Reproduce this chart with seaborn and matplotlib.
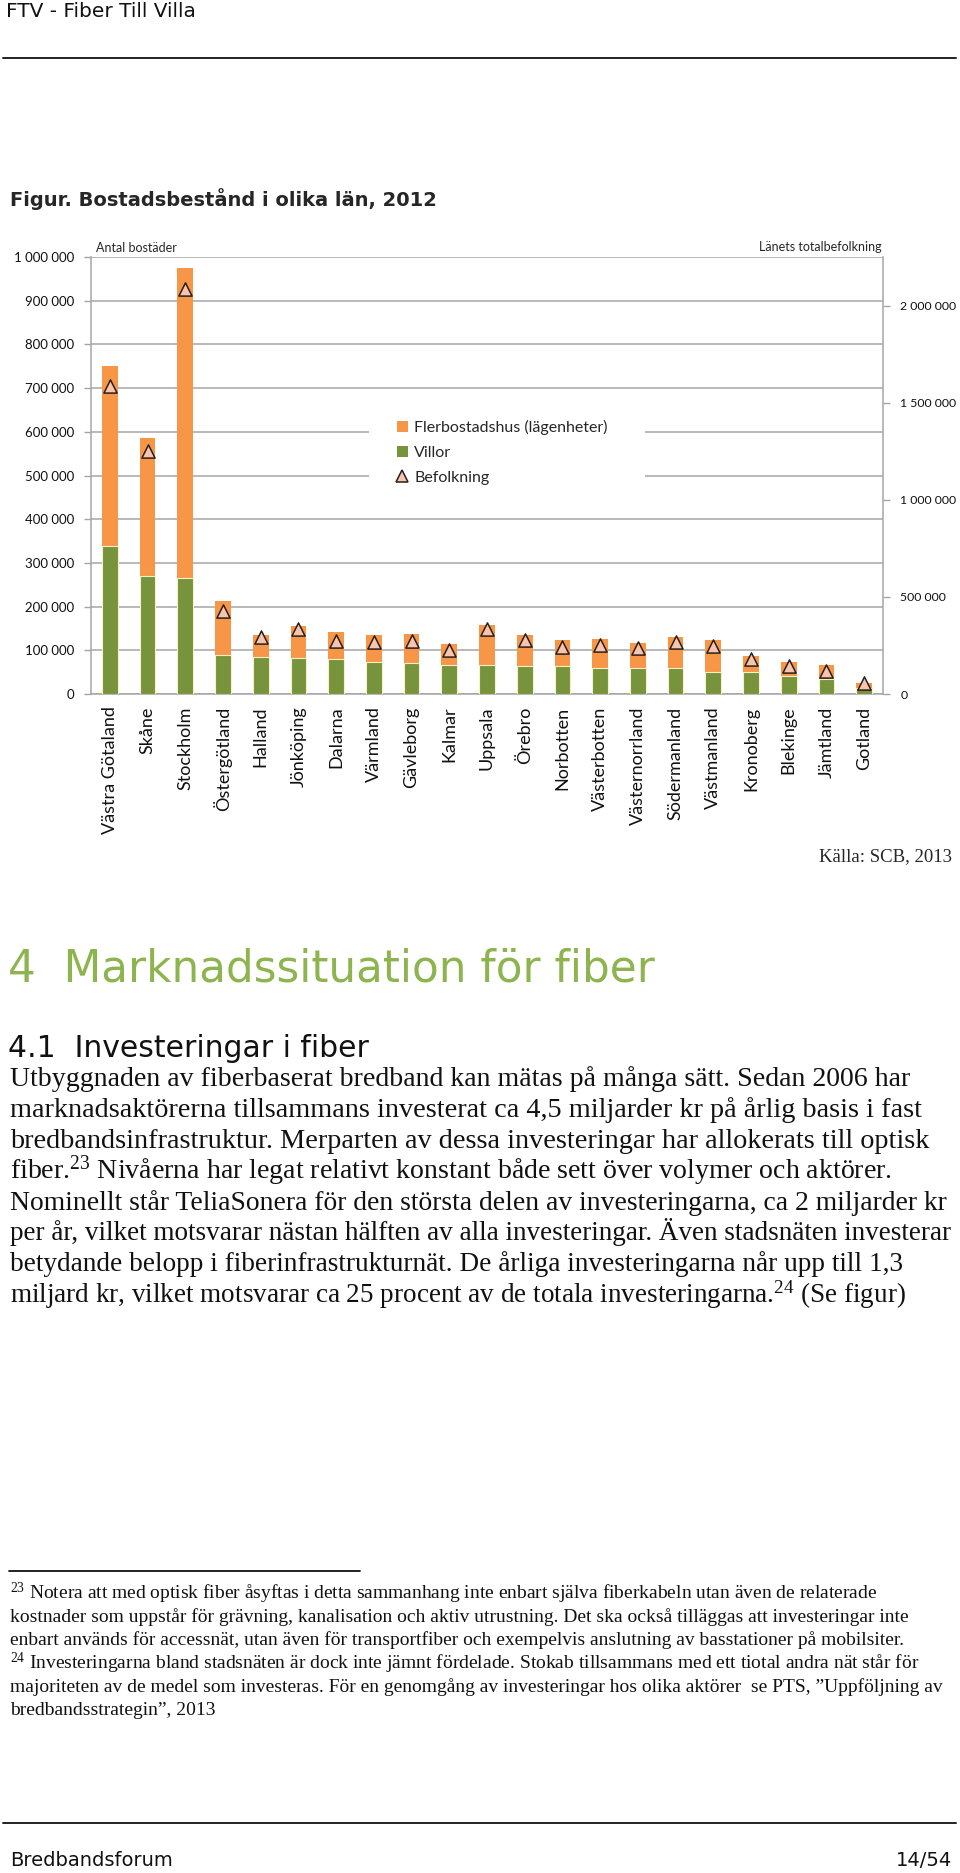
import numpy as np
import pandas as pd
import matplotlib
matplotlib.use("Agg")
import matplotlib.pyplot as plt
import seaborn as sns
from matplotlib.lines import Line2D
from matplotlib.patches import Patch, Rectangle

# ---------------- data ----------------
lan = ["Västra Götaland", "Skåne", "Stockholm", "Östergötland", "Halland", "Jönköping",
       "Dalarna", "Värmland", "Gävleborg", "Kalmar", "Uppsala", "Örebro", "Norbotten",
       "Västerbotten", "Västernorrland", "Södermanland", "Västmanland", "Kronoberg",
       "Blekinge", "Jämtland", "Gotland"]
villor = [339000, 270000, 266000, 89000, 85000, 83000, 81000, 74000, 72000, 67000, 67000,
          65000, 63000, 60000, 60000, 60000, 51000, 50000, 41000, 34000, 14000]
flerbostadshus = [412000, 316000, 709000, 123000, 49000, 73000, 60000, 60000, 65000, 48000,
                  91000, 71000, 61000, 66000, 57000, 71000, 73000, 38000, 32000, 32000, 12000]
befolkning = [1584000, 1249000, 2084000, 428000, 295000, 333000, 273000, 266000, 275000,
              227000, 333000, 278000, 241000, 251000, 239000, 268000, 247000, 179000,
              146000, 120000, 55000]
left_ticks = [0, 100000, 200000, 300000, 400000, 500000, 600000, 700000, 800000, 900000, 1000000]
right_ticks = [0, 500000, 1000000, 1500000, 2000000]

body_lines = [
    "Utbyggnaden av fiberbaserat bredband kan mätas på många sätt. Sedan 2006 har",
    "marknadsaktörerna tillsammans investerat ca 4,5 miljarder kr på årlig basis i fast",
    "bredbandsinfrastruktur. Merparten av dessa investeringar har allokerats till optisk",
    r"fiber.$^{\mathrm{23}}$ Nivåerna har legat relativt konstant både sett över volymer och aktörer.",
    "Nominellt står TeliaSonera för den största delen av investeringarna, ca 2 miljarder kr",
    "per år, vilket motsvarar nästan hälften av alla investeringar. Även stadsnäten investerar",
    "betydande belopp i fiberinfrastrukturnät. De årliga investeringarna når upp till 1,3",
    r"miljard kr, vilket motsvarar ca 25 procent av de totala investeringarna.$^{\mathrm{24}}$ (Se figur)",
]
foot_lines = [
    r"$^{\mathrm{23}}$ Notera att med optisk fiber åsyftas i detta sammanhang inte enbart själva fiberkabeln utan även de relaterade",
    "kostnader som uppstår för grävning, kanalisation och aktiv utrustning. Det ska också tilläggas att investeringar inte",
    "enbart används för accessnät, utan även för transportfiber och exempelvis anslutning av basstationer på mobilsiter.",
    r"$^{\mathrm{24}}$ Investeringarna bland stadsnäten är dock inte jämnt fördelade. Stokab tillsammans med ett tiotal andra nät står för",
    "majoriteten av de medel som investeras. För en genomgång av investeringar hos olika aktörer  se PTS, \u201dUppföljning av",
    "bredbandsstrategin\u201d, 2013",
]

df = pd.DataFrame({"lan": lan, "villor": villor, "fler": flerbostadshus, "pop": befolkning})
df["total"] = df["villor"] + df["fler"]
df["pos"] = np.arange(len(df))

# ---------------- style ----------------
sns.set_style("white")
plt.rcParams["font.family"] = ["DejaVu Sans"]
plt.rcParams["mathtext.fontset"] = "custom"
plt.rcParams["mathtext.rm"] = "Liberation Serif"
plt.rcParams["mathtext.it"] = "Liberation Serif:italic"

ORANGE = "#F79646"
GREEN = "#77933C"
PINK = "#F5C5B0"
EDGE = "#2B1E18"
GRID = "#A6A6A6"
HEAD_GREEN = "#8DB44F"
CH = "Lato"

W, H = 960, 1873
fig = plt.figure(figsize=(W / 100, H / 100), dpi=100)
fig.patch.set_facecolor("white")

def fx(px):
    return px / W

def fy(px):
    return 1 - px / H

# ---------------- chart ----------------
ax_l, ax_r, ax_t, ax_b = 91, 883, 257, 694
ax = fig.add_axes([fx(ax_l), fy(ax_b), fx(ax_r - ax_l), (ax_b - ax_t) / H])
sns.barplot(data=df, x="lan", y="total", color=ORANGE, width=0.42, saturation=1,
            ax=ax, linewidth=0, zorder=2)
sns.barplot(data=df, x="lan", y="villor", color=GREEN, width=0.42, saturation=1,
            ax=ax, edgecolor="#F4F0C8", linewidth=0.8, zorder=3)
ax.set_xlim(-0.5, len(lan) - 0.5)
ax.set_ylim(0, 1000000)
ax.set_xlabel("")
ax.set_ylabel("")
ax.set_axisbelow(True)
ax.yaxis.grid(True, color=GRID, lw=1.1)
ax.xaxis.grid(False)
ax.set_yticks(left_ticks)
ax.set_yticklabels([f"{v:,}".replace(",", " ") for v in left_ticks],
                   fontsize=9.5, family=CH, color="#111111")
ax.set_xticks(df["pos"])
ax.set_xticklabels(lan, rotation=90, fontsize=13, family=CH, color="#111111",
                   ha="center", va="top")
ax.set_xticks(np.arange(-0.5, len(lan), 1), minor=True)
ax.tick_params(axis="x", which="major", length=0, pad=9)
ax.tick_params(axis="x", which="minor", length=5, width=1, color=GRID, direction="out")
ax.tick_params(axis="y", which="major", length=5, width=1, color=GRID, direction="out", pad=7)
for s in ["top", "right"]:
    ax.spines[s].set_visible(False)
for s in ["left", "bottom"]:
    ax.spines[s].set_color(GRID)
    ax.spines[s].set_linewidth(1.1)

ax2 = ax.twinx()
sns.scatterplot(x=df["pos"], y=df["pop"], marker="^", s=90, color=PINK,
                edgecolor=EDGE, linewidth=1.1, ax=ax2, zorder=6, legend=False)
ax2.set_ylim(0, 2250000)
ax2.set_xlim(-0.5, len(lan) - 0.5)
ax2.set_ylabel("")
ax2.set_yticks(right_ticks)
ax2.set_yticklabels([f"{v:,}".replace(",", " ") for v in right_ticks],
                    fontsize=8.8, family=CH, color="#111111")
ax2.tick_params(axis="y", length=5, width=1, color=GRID, direction="out", pad=7.5)
for s in ["top", "left", "bottom"]:
    ax2.spines[s].set_visible(False)
ax2.spines["right"].set_color(GRID)
ax2.spines["right"].set_linewidth(1.1)

# white background of the legend area (hides grid lines behind it)
ax2.add_patch(Rectangle((fx(369), fy(510)), fx(645 - 369), (510 - 395) / H,
                        transform=fig.transFigure, facecolor="white", edgecolor="none",
                        zorder=1))

handles = [Patch(facecolor=ORANGE, edgecolor="none"),
           Patch(facecolor=GREEN, edgecolor="none"),
           Line2D([], [], marker="^", linestyle="none", markersize=9,
                  markerfacecolor=PINK, markeredgecolor=EDGE, markeredgewidth=1.1)]
leg = ax2.legend(handles, ["Flerbostadshus (lägenheter)", "Villor", "Befolkning"],
                 loc="upper left", bbox_to_anchor=(fx(384), fy(407)),
                 bbox_transform=fig.transFigure, frameon=False, borderpad=0.3,
                 handlelength=0.7, handleheight=0.7, handletextpad=0.4,
                 labelspacing=0.68, prop={"family": CH, "size": 11.5})
leg.set_zorder(10)

fig.text(fx(96), fy(252), "Antal bostäder", fontsize=9, family=CH, ha="left", va="baseline")
fig.text(fx(882), fy(251), "Länets totalbefolkning", fontsize=9, family=CH, ha="right", va="baseline")

# ---------------- page text ----------------
fig.text(fx(6), fy(17), "FTV - Fiber Till Villa", fontsize=14.5, family="DejaVu Sans",
         ha="left", va="baseline", color="#111111")
fig.add_artist(Line2D([fx(3), fx(956)], [fy(58), fy(58)], color="#222222", lw=1.4))
fig.text(fx(10), fy(206), "Figur. Bostadsbestånd i olika län, 2012", fontsize=14,
         family="DejaVu Sans", fontweight="bold", ha="left", va="baseline")
fig.text(fx(952), fy(861), "Källa: SCB, 2013", fontsize=13.5, family="Liberation Serif",
         ha="right", va="baseline")
fig.text(fx(8), fy(982), "4  Marknadssituation för fiber", fontsize=31.5, family="DejaVu Sans",
         ha="left", va="baseline", color=HEAD_GREEN)
fig.text(fx(8), fy(1057), "4.1  Investeringar i fiber", fontsize=21.5, family="DejaVu Sans",
         ha="left", va="baseline", color="#111111")
body_sizes = [20.1, 20.3, 20.3, 20.1, 19.9, 19.5, 19.6, 19.5]
for i, line in enumerate(body_lines):
    fig.text(fx(10), fy(1086 + 30.9 * i), line, fontsize=body_sizes[i], family="Liberation Serif",
             ha="left", va="baseline", color="#111111")
fig.add_artist(Line2D([fx(9), fx(360)], [fy(1571), fy(1571)], color="#111111", lw=1.3))
for i, line in enumerate(foot_lines):
    fig.text(fx(10), fy(1599 + 23.2 * i), line, fontsize=14, family="Liberation Serif",
             ha="left", va="baseline", color="#111111")
fig.add_artist(Line2D([fx(3), fx(956)], [fy(1823), fy(1823)], color="#222222", lw=1.4))
fig.text(fx(10), fy(1866), "Bredbandsforum", fontsize=14, family="DejaVu Sans",
         ha="left", va="baseline", color="#111111")
fig.text(fx(952), fy(1866), "14/54", fontsize=14, family="DejaVu Sans",
         ha="right", va="baseline", color="#111111")

fig.savefig("out.png", dpi=100, facecolor="white")
